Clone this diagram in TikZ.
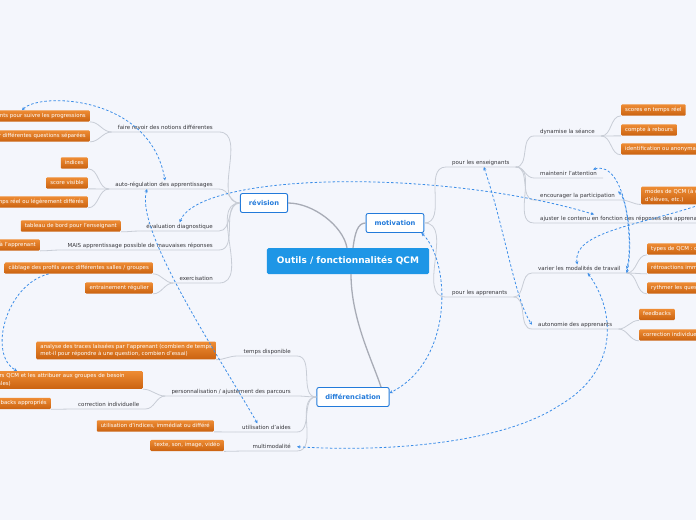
\documentclass[tikz,border=0pt]{standalone}
\usepackage{fontspec}
\setmainfont{DejaVu Sans}
\usetikzlibrary{arrows.meta,calc}

\definecolor{bgcol}{RGB}{244,246,252}
\definecolor{maincol}{RGB}{30,150,230}
\definecolor{topcol}{RGB}{34,122,218}
\definecolor{boxtop}{RGB}{238,140,52}
\definecolor{boxbot}{RGB}{202,98,16}
\definecolor{linecol}{RGB}{200,205,214}
\definecolor{trunkcol}{RGB}{168,172,182}
\definecolor{relcol}{RGB}{60,142,232}
\definecolor{txtcol}{RGB}{55,55,60}

\begin{document}
\begin{tikzpicture}[x=1pt,y=-1pt,
  centre/.style={fill=maincol,text=white,font=\fontsize{9}{10}\selectfont\bfseries,
    rounded corners=1.5pt,minimum height=26pt,inner xsep=10pt},
  topic/.style={draw=topcol,fill=white,text=topcol,font=\fontsize{6.7}{8}\selectfont\bfseries,
    rounded corners=2pt,minimum height=19pt,inner xsep=8.5pt,line width=0.9pt},
  lbl/.style={text=txtcol,font=\fontsize{5.5}{6.5}\selectfont,inner xsep=6pt,inner ysep=1.4pt,
    text height=4.1pt,text depth=1.3pt},
  box/.style={top color=boxtop,bottom color=boxbot,text=white,font=\fontsize{5.4}{7.5}\selectfont,
    rounded corners=1pt,inner xsep=4pt,inner ysep=3pt},
  leaf/.style={box,text height=4pt,text depth=1.3pt},
  branch/.style={draw=linecol,line width=0.8pt},
  trunk/.style={draw=trunkcol,line width=1.3pt},
  rel/.style={draw=relcol,line width=0.8pt,dash pattern=on 2.5pt off 2pt,<->},
  >={Stealth[length=3.2pt,width=3.2pt]}]
\clip (0,0) rectangle (696,520);
\fill[bgcol] (0,0) rectangle (696,520);

\node[centre] (qcm) at (348,261) {Outils / fonctionnalités QCM};
\node[topic] (rev) at (264,203) {révision};
\node[topic] (mot) at (395,223) {motivation};
\node[topic] (diff) at (353,397) {différenciation};

\draw[trunk] (rev.east) .. controls +(25,0) and +(-4,-22) .. ([xshift=-1pt]qcm.north);
\draw[trunk] ([xshift=5pt]qcm.north) .. controls +(2,-15) and +(-8,0) .. (mot.west);
\draw[trunk] ([xshift=3pt]qcm.south) .. controls +(0,45) and +(-8,-25) .. ([xshift=28pt]diff.north);

% revision
\node[lbl,anchor=south east] (revoir) at (219,132) {faire revoir des notions différentes};
\node[lbl,anchor=south east] (autoreg) at (219,189) {auto-régulation des apprentissages};
\node[lbl,anchor=south east] (diag) at (219,231) {évaluation diagnostique};
\node[lbl,anchor=south east] (mais) at (219,250) {MAIS apprentissage possible de mauvaises réponses};
\node[lbl,anchor=south east] (exo) at (219,283) {exercisation};

\node[leaf,anchor=east] (suivi) at (90,116) {étudiants pour suivre les progressions};
\node[leaf,anchor=east] (separe) at (90,136) {travailler différentes questions séparées};
\node[leaf,anchor=east] (indices) at (88,163) {indices};
\node[leaf,anchor=east] (score) at (88,183) {score visible};
\node[leaf,anchor=east] (differe) at (88,202) {feedback en temps réel ou légèrement différés};
\node[leaf,anchor=east] (bord) at (121,226) {tableau de bord pour l'enseignant};
\node[leaf,anchor=east] (appr) at (40,245) {feedback immédiat à l'apprenant};
\node[leaf,anchor=east] (cablage) at (153,268) {câblage des profils avec différentes salles / groupes};
\node[leaf,anchor=east] (entr) at (153,288) {entrainement régulier};

\draw[branch] (revoir.south west) -- (revoir.south east) to[out=0,in=180] (rev.west);
\draw[branch] (autoreg.south west) -- (autoreg.south east) to[out=0,in=180] (rev.west);
\draw[branch] (diag.south west) -- (diag.south east) to[out=0,in=180] (rev.west);
\draw[branch] (mais.south west) -- (mais.south east) to[out=0,in=180] (rev.west);
\draw[branch] (exo.south west) -- (exo.south east) to[out=0,in=180] (rev.west);
\draw[branch] (suivi.south east) to[out=0,in=180] (revoir.south west);
\draw[branch] (separe.south east) to[out=0,in=180] (revoir.south west);
\draw[branch] (indices.south east) to[out=0,in=180] (autoreg.south west);
\draw[branch] (score.south east) to[out=0,in=180] (autoreg.south west);
\draw[branch] (differe.south east) to[out=0,in=180] (autoreg.south west);
\draw[branch] (bord.south east) to[out=0,in=180] (diag.south west);
\draw[branch] (appr.south east) to[out=0,in=180] (mais.south west);
\draw[branch] (cablage.south east) to[out=0,in=180] (exo.south west);
\draw[branch] (entr.south east) to[out=0,in=180] (exo.south west);

% motivation
\node[lbl,anchor=south west] (ens) at (446,167) {pour les enseignants};
\node[lbl,anchor=south west] (app) at (446,297) {pour les apprenants};
\node[lbl,anchor=south west] (dyn) at (534,136) {dynamise la séance};
\node[lbl,anchor=south west] (attn) at (534,178) {maintenir l'attention};
\node[lbl,anchor=south west] (part) at (534,200) {encourager la participation};
\node[lbl,anchor=south west] (ajust) at (534,223) {ajuster le contenu en fonction des réponses des apprenants};
\node[lbl,anchor=south west] (var) at (532,273) {varier les modalités de travail};
\node[lbl,anchor=south west] (auton) at (532,329) {autonomie des apprenants};

\node[leaf,anchor=west] (reel) at (621,110) {scores en temps réel};
\node[leaf,anchor=west] (rebours) at (621,130) {compte à rebours};
\node[leaf,anchor=west] (anonym) at (621,149) {identification ou anonymat des répondants};
\node[box,anchor=west,align=left,inner ysep=2.5pt] (modes) at (641,195.5) {modes de QCM (à distance, en classe, par groupes\\d'élèves, etc.)};
\node[leaf,anchor=west] (types) at (647,249) {types de QCM : choix multiples, vrai / faux};
\node[leaf,anchor=west] (retro) at (647,268) {rétroactions immédiates};
\node[leaf,anchor=west] (rythme) at (647,288) {rythmer les questions};
\node[leaf,anchor=west] (fb) at (639,314.5) {feedbacks};
\node[leaf,anchor=west] (corrind) at (639,335) {correction individuelle};

\draw[branch] (mot.east) to[out=0,in=180] (ens.south west) -- (ens.south east);
\draw[branch] (mot.east) to[out=0,in=180] (app.south west) -- (app.south east);
\draw[branch] (ens.south east) to[out=0,in=180] (dyn.south west) -- (dyn.south east);
\draw[branch] (ens.south east) to[out=0,in=180] (attn.south west) -- (attn.south east);
\draw[branch] (ens.south east) to[out=0,in=180] (part.south west) -- (part.south east);
\draw[branch] (ens.south east) to[out=0,in=180] (ajust.south west) -- (ajust.south east);
\draw[branch] (app.south east) to[out=0,in=180] (var.south west) -- (var.south east);
\draw[branch] (app.south east) to[out=0,in=180] (auton.south west) -- (auton.south east);
\draw[branch] (dyn.south east) to[out=0,in=180] (reel.south west);
\draw[branch] (dyn.south east) to[out=0,in=180] (rebours.south west);
\draw[branch] (dyn.south east) to[out=0,in=180] (anonym.south west);
\draw[branch] (part.south east) to[out=0,in=180] (modes.south west);
\draw[branch] (var.south east) to[out=0,in=180] (types.south west);
\draw[branch] (var.south east) to[out=0,in=180] (retro.south west);
\draw[branch] (var.south east) to[out=0,in=180] (rythme.south west);
\draw[branch] (auton.south east) to[out=0,in=180] (fb.south west);
\draw[branch] (auton.south east) to[out=0,in=180] (corrind.south west);

% differenciation
\node[lbl,anchor=south east] (temps) at (297,356) {temps disponible};
\node[lbl,anchor=south east] (perso) at (297,396) {personnalisation / ajustement des parcours};
\node[lbl,anchor=south east] (aides) at (297,432) {utilisation d'aides};
\node[lbl,anchor=south east] (multi) at (297,451) {multimodalité};
\node[lbl,anchor=south west] (corr) at (72,409) {correction individuelle};

\node[box,anchor=east,align=left,inner ysep=2.5pt] (traces) at (216,350.5) {analyse des traces laissées par l'apprenant (combien de temps\\met-il pour répondre à une question, combien d'essai)};
\node[box,anchor=east,align=left,inner ysep=2.5pt,text width=183pt] (groupes) at (143,380) {élaborer plusieurs QCM et les attribuer aux groupes de besoin\\(classes principales)};
\node[leaf,anchor=east] (fbapp) at (51,403.5) {feedbacks appropriés};
\node[leaf,anchor=east] (indic) at (214,426) {utilisation d'indices, immédiat ou différé};
\node[leaf,anchor=east] (media) at (224,445.5) {texte, son, image, vidéo};

\draw[branch] (temps.south west) -- (temps.south east) to[out=0,in=180] (diff.west);
\draw[branch] (perso.south west) -- (perso.south east) to[out=0,in=180] (diff.west);
\draw[branch] (aides.south west) -- (aides.south east) to[out=0,in=180] (diff.west);
\draw[branch] (multi.south west) -- (multi.south east) to[out=0,in=180] (diff.west);
\draw[branch] (traces.south east) to[out=0,in=180] (temps.south west);
\draw[branch] (groupes.south east) to[out=0,in=180] (perso.south west);
\draw[branch] (fbapp.south east) -- (corr.south west) -- (corr.south east) to[out=0,in=180] (perso.south west);
\draw[branch] (indic.south east) to[out=0,in=180] (aides.south west);
\draw[branch] (media.south east) to[out=0,in=180] (multi.south west);

% relations
\draw[rel] ([xshift=-68pt]suivi.north east) .. controls (40,92) and (150,95) .. ([xshift=1pt]autoreg.north);
\draw[rel] (diag.north) .. controls (200,172) and (440,168) .. ([xshift=60pt]ajust.north west);
\draw[rel] ([xshift=-17pt]autoreg.south) .. controls (135,230) and (215,350) .. ([xshift=-9pt]aides.north);
\draw[rel,->] ([xshift=-30pt]cablage.south) .. controls (5,285) and (-12,355) .. ([xshift=-126pt]groupes.north east);
\draw[rel] ([xshift=-3pt]mot.south east) .. controls (450,260) and (455,360) .. ([yshift=4pt]diff.east);
\draw[rel] ([xshift=3pt]ens.south) .. controls (505,230) and (515,300) .. (auton.west);
\draw[rel] ([xshift=-10pt]attn.north east) .. controls (625,160) and (635,240) .. (var.south east);
\draw[rel] ([xshift=-3pt]part.north east) .. controls (628,200) and (632,250) .. ([yshift=4pt]var.south east);
\draw[rel] ([xshift=60pt]modes.south west) .. controls (640,225) and (572,232) .. ([xshift=-2pt]var.north);
\draw[rel] ([xshift=-39pt]var.south east) .. controls (615,310) and (620,370) .. (560,405)
  .. controls (500,445) and (380,452) .. (multi.east);
\end{tikzpicture}
\end{document}
